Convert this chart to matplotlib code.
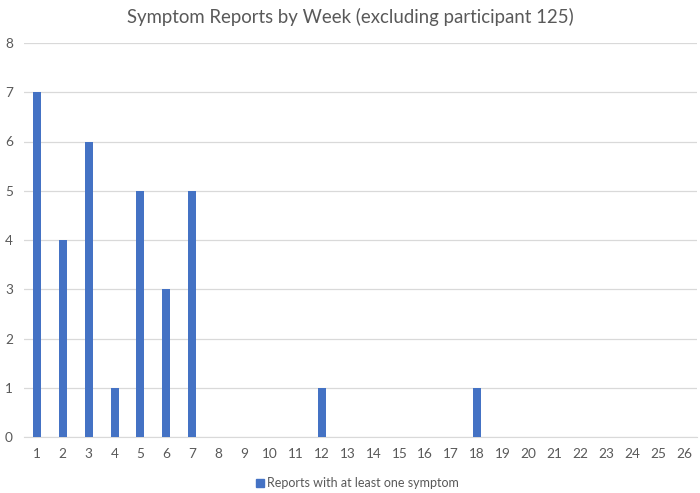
import matplotlib
matplotlib.use("Agg")
import matplotlib.pyplot as plt
from matplotlib.patches import Patch

weeks = [str(i) for i in range(1, 27)]
counts = [7, 4, 6, 1, 5, 3, 5, 0, 0, 0, 0, 1, 0, 0, 0, 0, 0, 1, 0, 0, 0, 0, 0, 0, 0, 0]
title = "Symptom Reports by Week (excluding participant 125)"
series_name = "Reports with at least one symptom"

plt.rcParams['font.family'] = ['Lato', 'DejaVu Sans']
txt = '#595959'
blue = '#4472C4'

fig = plt.figure(figsize=(7, 4.93), dpi=100)
ax = fig.add_axes([24/700, 1-437/493, (697-24)/700, (437-43)/493])
x = list(range(len(weeks)))
ax.bar(x, counts, width=0.31, color=blue, zorder=3)
ax.set_xlim(-0.5, len(weeks)-0.5)
ax.set_ylim(0, 8)
ax.set_yticks(range(0, 9))
ax.set_xticks(x)
ax.set_xticklabels(weeks)
ax.grid(axis='y', color='#d9d9d9', linewidth=0.9, zorder=0)
for s in ['top', 'right', 'left']:
    ax.spines[s].set_visible(False)
ax.spines['bottom'].set_color('#d9d9d9')
ax.tick_params(axis='both', length=0, colors=txt, labelsize=9.8)
ax.tick_params(axis='y', pad=8)
ax.tick_params(axis='x', pad=8)
fig.suptitle(title, x=0.5, y=0.983, fontsize=13.4, color=txt)
leg = fig.legend(handles=[Patch(color=blue, label=series_name)], loc='center',
                 bbox_to_anchor=(0.511, 1-483/493), frameon=False, fontsize=9,
                 handlelength=0.6, handleheight=0.6, handletextpad=0.3)
for t in leg.get_texts():
    t.set_color(txt)
fig.savefig('out.png', dpi=100)
